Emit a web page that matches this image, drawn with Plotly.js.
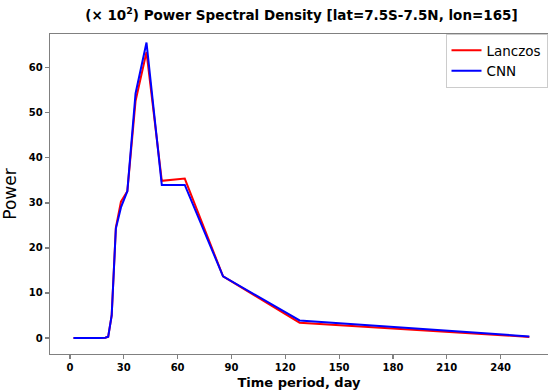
<!DOCTYPE html>
<html>
<head>
<meta charset="utf-8">
<script src="https://cdn.plot.ly/plotly-3.0.1.min.js"></script>
<style>html,body{margin:0;padding:0;background:#fff;}#chart{width:548px;height:391px;}</style>
</head>
<body>
<div id="chart"></div>
<script>
// Time period (days) at each spectral point
var periods = [256, 128, 85.33, 64, 51.2, 42.67, 36.57, 32, 28.44, 25.6, 23.27, 21.33, 19.69, 18.29, 17.07, 16, 2];
// Power (x 10^2)
var lanczos = [0.25, 3.4, 13.7, 35.4, 34.9, 63.5, 52.6, 32.6, 30.3, 24.5, 5.0, 0.3, 0.05, 0, 0, 0, 0];
var cnn     = [0.35, 3.9, 13.7, 34.0, 34.0, 65.6, 54.3, 32.6, 29.0, 24.3, 5.0, 0.3, 0.05, 0, 0, 0, 0];
var seriesNames = ['Lanczos', 'CNN'];
var xTicks = [0, 30, 60, 90, 120, 150, 180, 210, 240];
var yTicks = [0, 10, 20, 30, 40, 50, 60];

var FONT = 'DejaVu Sans, Liberation Sans, sans-serif';
var AXC = '#808080';

var traces = [
  {x: periods, y: lanczos, name: seriesNames[0], type: 'scatter', mode: 'lines',
   line: {color: '#ff0000', width: 2}},
  {x: periods, y: cnn, name: seriesNames[1], type: 'scatter', mode: 'lines',
   line: {color: '#0000ff', width: 2}}
];

var layout = {
  width: 548, height: 391,
  margin: {l: 50, r: 0, t: 34, b: 37, pad: 0},
  paper_bgcolor: '#fff', plot_bgcolor: '#fff',
  font: {family: FONT, color: '#000'},
  title: {text: '(× 10<sup>2</sup>) Power Spectral Density [lat=7.5S-7.5N, lon=165]',
          font: {family: FONT, size: 13.5, weight: 'bold', color: '#000'},
          xref: 'paper', x: 0.505, xanchor: 'center',
          yref: 'container', y: 1 - 15/391, yanchor: 'middle'},
  xaxis: {range: [-11.1, 266.4], tickmode: 'array', tickvals: xTicks,
          showgrid: false, zeroline: false, showline: true, mirror: true,
          linecolor: AXC, linewidth: 1.3, ticks: 'outside', ticklen: 4, tickcolor: AXC, tickwidth: 1.2,
          tickfont: {family: FONT, size: 10, weight: 'bold', color: '#000'},
          title: {text: 'Time period, day', standoff: 5,
                  font: {family: FONT, size: 13, weight: 'bold', color: '#000'}}},
  yaxis: {range: [-3.55, 67.5], tickmode: 'array', tickvals: yTicks,
          showgrid: false, zeroline: false, showline: true, mirror: false,
          linecolor: AXC, linewidth: 1.3, ticks: 'outside', ticklen: 4, tickcolor: AXC, tickwidth: 1.2,
          tickfont: {family: FONT, size: 10, weight: 'bold', color: '#000'},
          title: {text: 'Power', standoff: 7,
                  font: {family: FONT, size: 17, color: '#000'}}},
  legend: {x: 0.999, xanchor: 'right', y: 1.0, yanchor: 'top',
           bgcolor: '#fff', bordercolor: '#cccccc', borderwidth: 1,
           tracegroupgap: 0, itemwidth: 30,
           font: {family: FONT, size: 13.5, color: '#000'}},
  showlegend: true
};

Plotly.newPlot('chart', traces, layout, {staticPlot: true, displayModeBar: false});
</script>
</body>
</html>
